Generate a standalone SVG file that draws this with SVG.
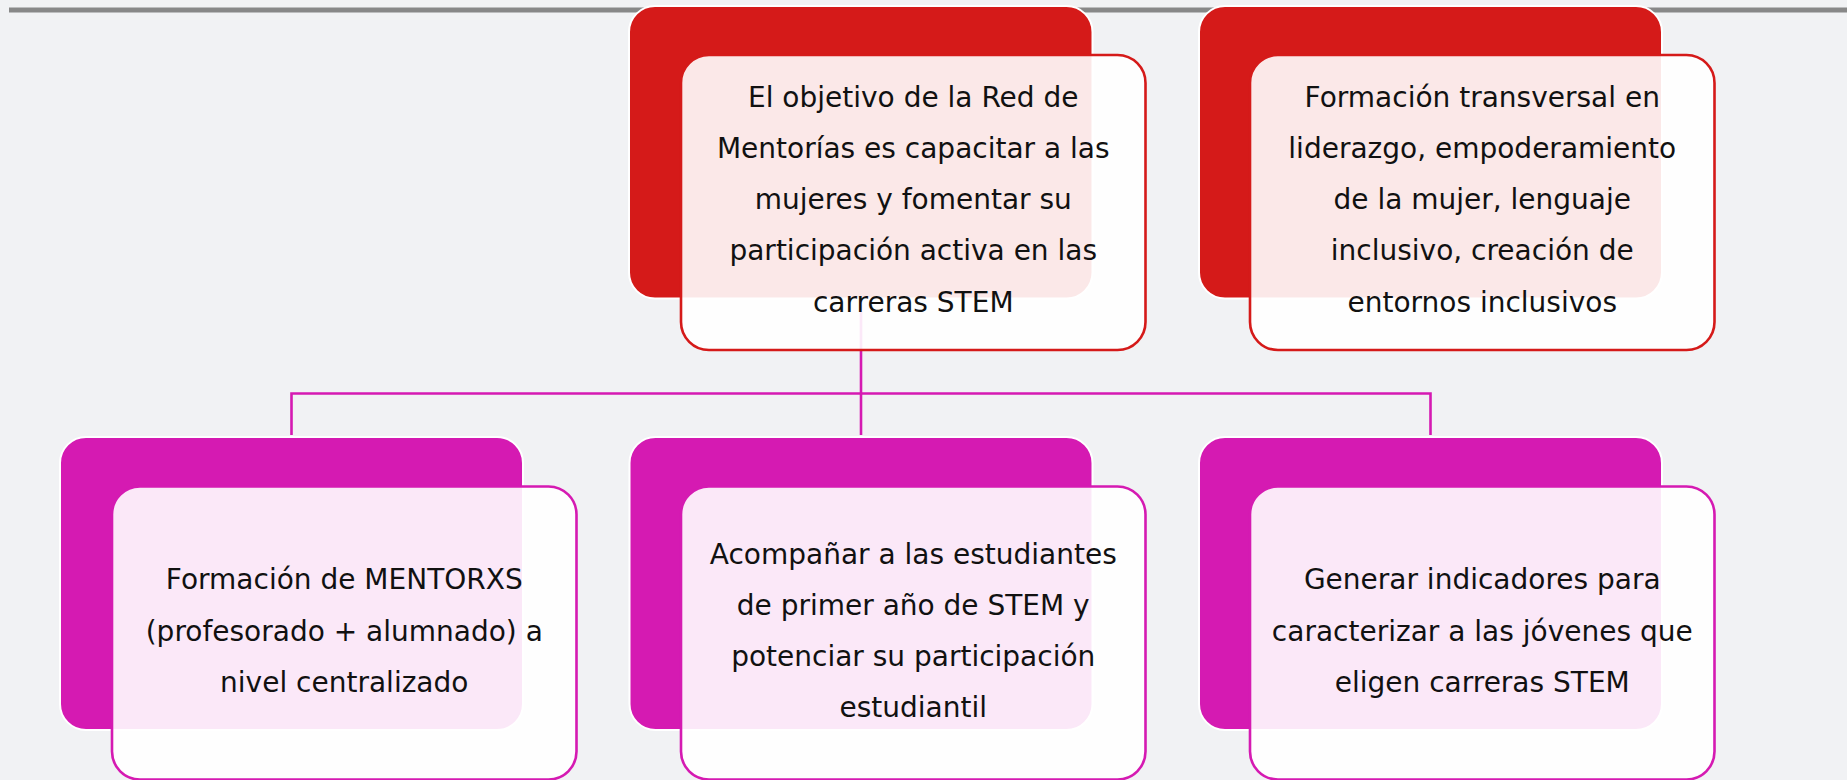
<svg xmlns="http://www.w3.org/2000/svg" width="1847" height="780" viewBox="0 0 1847 780">
<style>
.bg{fill:#f1f2f4}
.backR{fill:#d51a19;stroke:#ffffff;stroke-width:2}
.backM{fill:#d51ab2;stroke:#ffffff;stroke-width:2}
.frontR{fill:#ffffff;fill-opacity:0.9;stroke:#d51a19;stroke-width:2.6}
.frontM{fill:#ffffff;fill-opacity:0.9;stroke:#d51ab2;stroke-width:2.6}
.conn{fill:none;stroke:#d51ab2;stroke-width:2.6}
.txt{font-family:"DejaVu Sans","Liberation Sans",sans-serif;font-size:28px;fill:#111111;text-anchor:middle}
</style>
<rect class="bg" x="0" y="0" width="1847" height="780"/>
<line x1="9" y1="10" x2="1847" y2="10" stroke="#888888" stroke-width="5"/>
<g id="connectors">
<polyline class="conn" points="861,298 861,435"/>
<polyline class="conn" points="291.5,435 291.5,393.5 1430.5,393.5 1430.5,435"/>
</g>
<g id="node-objetivo">
<rect class="backR" x="629" y="6" width="463.5" height="292.5" rx="26"/>
<rect class="frontR" x="681" y="55" width="464.5" height="295" rx="28"/>
<text class="txt"><tspan x="913.25" y="106.5">El objetivo de la Red de</tspan><tspan x="913.25" y="157.75">Mentorías es capacitar a las</tspan><tspan x="913.25" y="209">mujeres y fomentar su</tspan><tspan x="913.25" y="260.25">participación activa en las</tspan><tspan x="913.25" y="311.5">carreras STEM</tspan></text>
</g>
<g id="node-formacion-transversal">
<rect class="backR" x="1199" y="6" width="463" height="292.5" rx="26"/>
<rect class="frontR" x="1250" y="55" width="464.5" height="295" rx="28"/>
<text class="txt"><tspan x="1482.25" y="106.5">Formación transversal en</tspan><tspan x="1482.25" y="157.75">liderazgo, empoderamiento</tspan><tspan x="1482.25" y="209">de la mujer, lenguaje</tspan><tspan x="1482.25" y="260.25">inclusivo, creación de</tspan><tspan x="1482.25" y="311.5">entornos inclusivos</tspan></text>
</g>
<g id="node-mentorxs">
<rect class="backM" x="60" y="437" width="463" height="293" rx="26"/>
<rect class="frontM" x="112" y="486.5" width="464.5" height="293" rx="28"/>
<text class="txt"><tspan x="344.25" y="589.3">Formación de MENTORXS</tspan><tspan x="344.25" y="640.5">(profesorado + alumnado) a</tspan><tspan x="344.25" y="691.7">nivel centralizado</tspan></text>
</g>
<g id="node-acompanar">
<rect class="backM" x="629.5" y="437" width="463" height="293" rx="26"/>
<rect class="frontM" x="681" y="486.5" width="464.5" height="293" rx="28"/>
<text class="txt"><tspan x="913.25" y="563.5">Acompañar a las estudiantes</tspan><tspan x="913.25" y="614.7">de primer año de STEM y</tspan><tspan x="913.25" y="665.9">potenciar su participación</tspan><tspan x="913.25" y="717.1">estudiantil</tspan></text>
</g>
<g id="node-indicadores">
<rect class="backM" x="1199" y="437" width="463" height="293" rx="26"/>
<rect class="frontM" x="1250" y="486.5" width="464.5" height="293" rx="28"/>
<text class="txt"><tspan x="1482.25" y="589.3">Generar indicadores para</tspan><tspan x="1482.25" y="640.5">caracterizar a las jóvenes que</tspan><tspan x="1482.25" y="691.7">eligen carreras STEM</tspan></text>
</g>
</svg>
